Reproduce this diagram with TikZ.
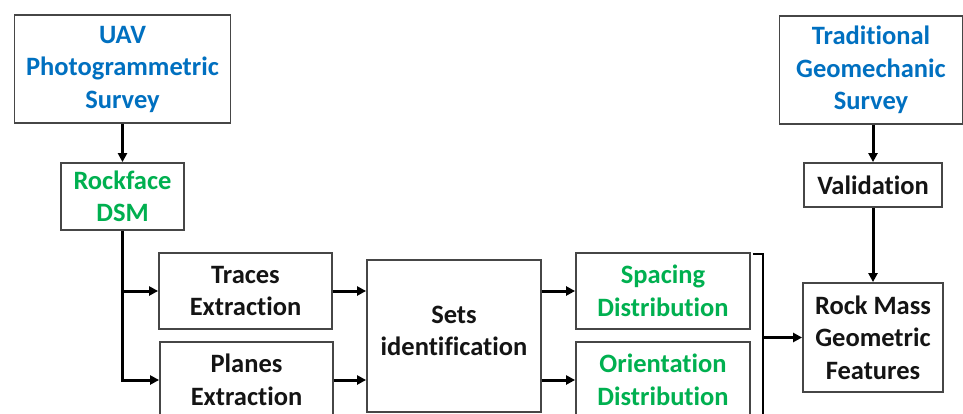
\documentclass[tikz,border=0pt]{standalone}
\usepackage{fontspec}
\setmainfont{Carlito}[Ligatures=NoCommon]
\usetikzlibrary{arrows.meta,calc}
\definecolor{uavblue}{RGB}{0,112,192}
\definecolor{dsmgreen}{RGB}{0,176,80}
\definecolor{boxline}{RGB}{70,70,70}
\definecolor{txt}{RGB}{20,20,20}
\tikzset{
  lbl/.style={font=\fontsize{26.5}{32.5}\selectfont\bfseries, text=txt, align=center},
  box/.style={lbl, draw=boxline, line width=1.8pt, fill=white, inner sep=0pt},
  arr/.style={line width=3pt, -{Triangle[length=9pt,width=9pt]}},
  ln/.style={line width=1.8pt},
}
\begin{document}
\begin{tikzpicture}[x=1pt,y=-1pt]
\useasboundingbox (0,0) rectangle (963,414);
\clip (0,0) rectangle (963,414);
\fill[white] (0,0) rectangle (963,414);
% left column
\node[box, minimum width=216pt, minimum height=108pt, text=uavblue] (uav) at (122.5,69) {UAV\\Photogrammetric\\Survey};
\node[box, minimum width=123pt, minimum height=67pt, text=dsmgreen] (dsm) at (122.5,196.5) {Rockface\\DSM};
\node[box, minimum width=173pt, minimum height=76pt] (traces) at (245.5,291) {Traces\\Extraction};
\node[box, minimum width=173pt, minimum height=76pt] (planes) at (246.5,380) {Planes\\Extraction};
\node[box, minimum width=174pt, minimum height=152pt] (sets) at (454,336) {};
\node[lbl] (setst) at (454,331) {Sets\\identification};
\node[box, minimum width=174pt, minimum height=76pt, text=dsmgreen] (spacing) at (663,291) {Spacing\\Distribution};
\node[box, minimum width=174pt, minimum height=76pt, text=dsmgreen] (orient) at (663,380) {Orientation\\Distribution};
% right column
\node[box, minimum width=183pt, minimum height=108pt, text=uavblue] (trad) at (871,70) {Traditional\\Geomechanic\\Survey};
\node[box, minimum width=138pt, minimum height=44pt] (valid) at (873,185) {Validation};
\node[box, minimum width=140pt, minimum height=109pt] (rock) at (873,337.5) {Rock Mass\\Geometric\\Features};
% connectors
\draw[arr] (uav.south) -- (dsm.north);
\draw[arr] (dsm.south) |- (planes.west);
\draw[arr] (dsm.south |- traces.west) -- (traces.west);
\draw[arr] (traces.east) -- (traces.east -| sets.west);
\draw[arr] (planes.east) -- (planes.east -| sets.west);
\draw[arr] (sets.east |- spacing.west) -- (spacing.west);
\draw[arr] (sets.east |- orient.west) -- (orient.west);
\coordinate (b1) at ($(spacing.north east)+(2,2)$);
\coordinate (b2) at ($(b1)+(10,0)$);
\coordinate (b3) at ($(b2)+(0,200)$);
\draw[ln] (b1) -- (b2) -- (b3);
\draw[arr] (b2 |- rock.west) -- (rock.west);
\draw[arr] (trad.south -| valid.north) -- (valid.north);
\draw[arr] (valid.south) -- (rock.north);
\end{tikzpicture}
\end{document}
